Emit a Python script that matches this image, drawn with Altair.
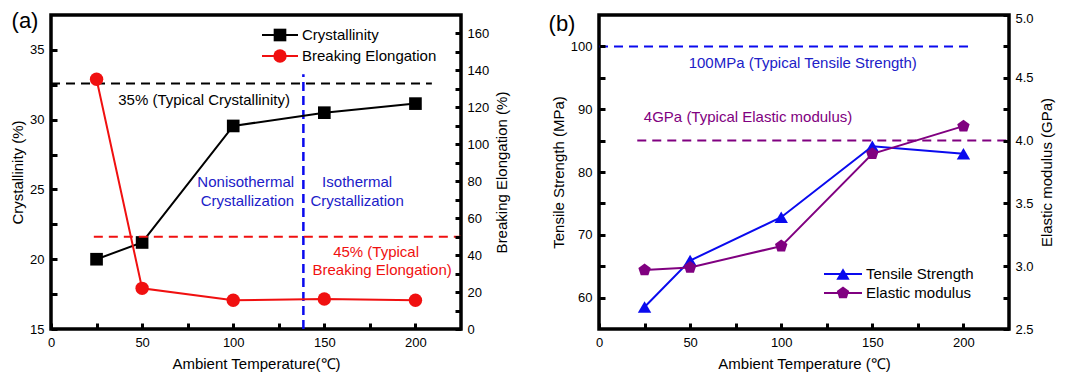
import altair as alt
import pandas as pd

# ---------------- data ----------------
temps = [25, 50, 100, 150, 200]
crystallinity = [20.0, 21.2, 29.55, 30.5, 31.15]
elongation = [135.2, 22.0, 15.6, 16.2, 15.6]
tensile = [58.5, 65.9, 72.8, 84.1, 82.9]
modulus = [2.97, 2.99, 3.16, 3.895, 4.115]

x_ticks = [0, 25, 50, 75, 100, 125, 150, 175, 200]
a_left_ticks = [15, 17.5, 20, 22.5, 25, 27.5, 30, 32.5, 35]
a_right_ticks = [0, 10, 20, 30, 40, 50, 60, 70, 80, 90, 100, 110, 120, 130, 140, 150, 160]
b_left_ticks = [60, 65, 70, 75, 80, 85, 90, 95, 100]
b_right_ticks = [2.5, 2.75, 3.0, 3.25, 3.5, 3.75, 4.0, 4.25, 4.5, 4.75, 5.0]

# reference lines: (value, x start, x end)
ref_cryst = (32.6, 0, 209)
ref_elong = (50, 23.5, 225)
ref_tensile = (100, 0, 204)
ref_modulus = (4.0, 21, 225)
boundary_T = 138.5
boundary_top = 33.25

W, H = 410, 314
X_DOM = [0, 225]
FONT = "Liberation Sans"
BLACK = "#000000"
RED = "#f01010"
BLUE = "#0a0aee"
BLUE_TXT = "#2020c8"
PURPLE = "#800080"
PENTAGON = "M0,-1L0.951,-0.309L0.588,0.809L-0.588,0.809L-0.951,-0.309Z"
TICK_IN = 6      # inward tick length (axis drawn this far inside the frame)

xscale = alt.Scale(domain=X_DOM, nice=False, zero=False)


def axis_common(values, major_step, title, lp, tp, orient=None, fmt=None, top_shift=0):
    test_minor = f"abs(datum.value / {major_step} - round(datum.value / {major_step})) > 1e-6"
    kw = dict(values=values, ticks=True, domain=False, grid=False,
              offset=-TICK_IN, tickSize=TICK_IN, tickWidth=3, tickColor=BLACK,
              tickOpacity=1, zindex=2,
              labelExpr=f"({test_minor}) ? '' : datum.label",
              labelFontSize=13, titleFontSize=15, labelPadding=lp, titlePadding=tp,
              title=title, titleFontWeight="normal", labelColor=BLACK,
              titleColor=BLACK, labelOverlap=False, labelFlush=False)
    if orient:
        kw["orient"] = orient
    if fmt:
        kw["format"] = fmt
    if top_shift:
        kw["labelOffset"] = {"condition": {"test": f"datum.value >= {values[-1]}",
                                           "value": top_shift}, "value": 0}
    if orient == "right":
        kw["titleAngle"] = 270
        kw["titleBaseline"] = "top"
    return alt.Axis(**kw)


def series(X, Y, xs, ys, color, shape, size):
    df = pd.DataFrame({"x": xs, "y": ys})
    line = alt.Chart(df).mark_line(color=color, strokeWidth=2).encode(x=X, y=Y)
    pts = alt.Chart(df).mark_point(filled=True, shape=shape, size=size,
                                   color=color, opacity=1).encode(x=X, y=Y)
    return [line, pts]


def hline(X, Y, ref, color, dash):
    v, x0, x1 = ref
    df = pd.DataFrame({"x": [x0], "x2": [x1], "y": [v]})
    return alt.Chart(df).mark_rule(color=color, strokeWidth=2, strokeDash=dash).encode(
        x=X, x2="x2:Q", y=Y)


def label(X, Y, xs, ys, texts, color, align="center", size=15):
    df = pd.DataFrame({"x": xs, "y": ys, "t": texts})
    return alt.Chart(df).mark_text(color=color, fontSize=size, font=FONT,
                                   align=align, baseline="middle").encode(
        x=X, y=Y, text="t:N")


def legend_row(px, py, color, shape, size, text):
    df = pd.DataFrame({"t": [text]})
    base = alt.Chart(df)
    r = base.mark_rule(color=color, strokeWidth=2).encode(
        x=alt.value(px[0]), x2=alt.value(px[1]), y=alt.value(py))
    p = base.mark_point(filled=True, shape=shape, size=size, color=color, opacity=1).encode(
        x=alt.value((px[0] + px[1]) / 2), y=alt.value(py))
    t = base.mark_text(color=BLACK, fontSize=15, font=FONT, align="left",
                       baseline="middle").encode(
        x=alt.value(px[1] + 4), y=alt.value(py), text="t:N")
    return [r, p, t]


def tag(px, py, text):
    df = pd.DataFrame({"t": [text]})
    return alt.Chart(df).mark_text(color=BLACK, fontSize=22, font=FONT,
                                   align="center", baseline="middle").encode(
        x=alt.value(px), y=alt.value(py), text="t:N")


# ---------------- panel (a) ----------------
aL_dom, aR_dom = [15, 37.5], [0, 170]
Xa = alt.X("x:Q", scale=xscale,
           axis=axis_common(x_ticks, 50, "Ambient Temperature(℃)", 7, 7))
YaL = alt.Y("y:Q", scale=alt.Scale(domain=aL_dom, nice=False, zero=False),
            axis=axis_common(a_left_ticks, 5, "Crystallinity (%)", 7, 4, orient="left"))
YaR = alt.Y("y:Q", scale=alt.Scale(domain=aR_dom, nice=False, zero=False),
            axis=axis_common(a_right_ticks, 20, "Breaking Elongation (%)", 6, 6,
                             orient="right"))

bdf = pd.DataFrame({"x": [boundary_T], "y": [aL_dom[0]], "y2": [boundary_top]})
boundary = alt.Chart(bdf).mark_rule(color=BLUE, strokeWidth=2.5, strokeDash=[9, 5]).encode(
    x=Xa, y=YaL, y2="y2:Q")

a_left = alt.layer(
    hline(Xa, YaL, ref_cryst, BLACK, [9, 6]),
    boundary,
    *series(Xa, YaL, temps, crystallinity, BLACK, "square", 160),
    label(Xa, YaL, [84], [31.4], ["35% (Typical Crystallinity)"], BLACK),
    label(Xa, YaL, [133.4, 133.4], [25.55, 24.19],
          ["Nonisothermal", "Crystallization"], BLUE_TXT, align="right"),
    label(Xa, YaL, [168, 168], [25.55, 24.19],
          ["Isothermal", "Crystallization"], BLUE_TXT),
    *legend_row((211, 247), 20, BLACK, "square", 160, "Crystallinity"),
    tag(-26, 6, "(a)"),
)
a_right = alt.layer(
    hline(Xa, YaR, ref_elong, RED, [9, 6]),
    *series(Xa, YaR, temps, elongation, RED, "circle", 180),
    label(Xa, YaR, [178.4, 181.7], [41.5, 31.8],
          ["45% (Typical", "Breaking Elongation)"], RED),
    *legend_row((211, 247), 41, RED, "circle", 180, "Breaking Elongation"),
)
panel_a = alt.layer(a_left, a_right).resolve_scale(y="independent").properties(
    width=W, height=H)

# ---------------- panel (b) ----------------
bL_dom, bR_dom = [55, 105], [2.5, 5.0]
Xb = alt.X("x:Q", scale=xscale,
           axis=axis_common(x_ticks, 50, "Ambient Temperature (℃)", 7, 7))
YbL = alt.Y("y:Q", scale=alt.Scale(domain=bL_dom, nice=False, zero=False),
            axis=axis_common(b_left_ticks, 10, "Tensile Strength (MPa)", 7, 4, orient="left"))
YbR = alt.Y("y:Q", scale=alt.Scale(domain=bR_dom, nice=False, zero=False),
            axis=axis_common(b_right_ticks, 0.5, "Elastic modulus (GPa)", 6, 6,
                             orient="right", fmt=".1f", top_shift=3))

b_left = alt.layer(
    hline(Xb, YbL, ref_tensile, BLUE, [9, 6]),
    *series(Xb, YbL, temps, tensile, BLUE, "triangle-up", 180),
    label(Xb, YbL, [111.8], [97.4], ["100MPa (Typical Tensile Strength)"], BLUE_TXT),
    *legend_row((225, 263), 259, BLUE, "triangle-up", 180, "Tensile Strength"),
    tag(-37, 9, "(b)"),
)
b_right = alt.layer(
    hline(Xb, YbR, ref_modulus, PURPLE, [9, 6]),
    *series(Xb, YbR, temps, modulus, PURPLE, PENTAGON, 170),
    label(Xb, YbR, [81.8], [4.19], ["4GPa (Typical Elastic modulus)"], PURPLE),
    *legend_row((225, 263), 278, PURPLE, PENTAGON, 170, "Elastic modulus"),
)
panel_b = alt.layer(b_left, b_right).resolve_scale(y="independent").properties(
    width=W, height=H)

chart = alt.hconcat(panel_a, panel_b, spacing=34).properties(
    padding={"left": 0, "top": 0, "right": 0, "bottom": 0}
).configure(font=FONT, background="white").configure_view(
    stroke=BLACK, strokeWidth=3.5)

chart.save("out.html", embed_options={"renderer": "svg", "actions": False})
